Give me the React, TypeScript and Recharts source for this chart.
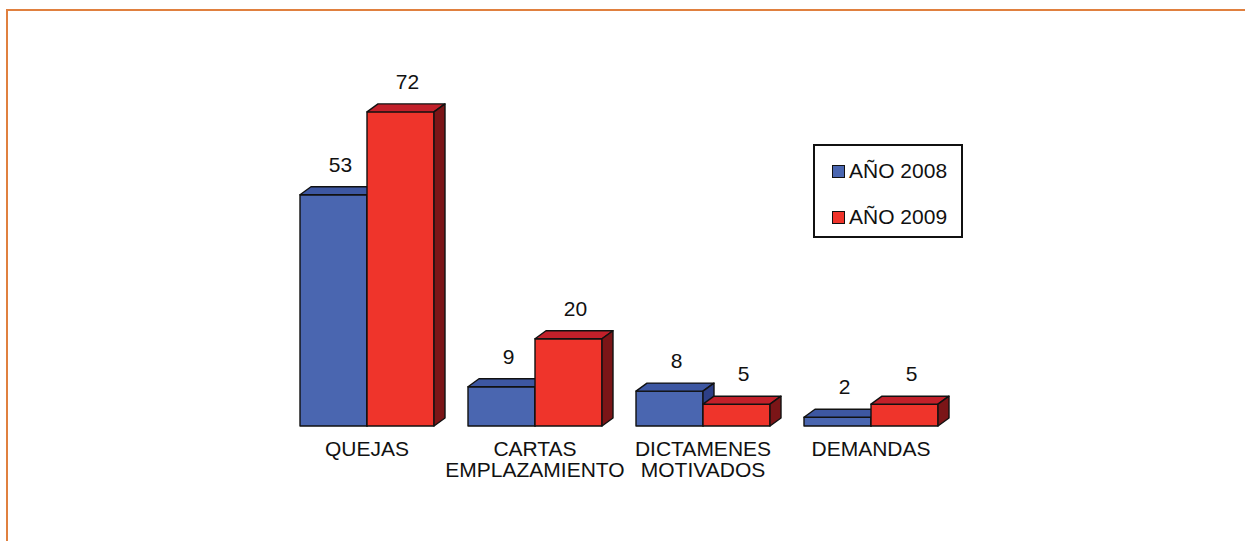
import React from "react";
import { BarChart, Bar, XAxis, YAxis, LabelList } from "recharts";

const categories = ["QUEJAS", "CARTAS\nEMPLAZAMIENTO", "DICTAMENES\nMOTIVADOS", "DEMANDAS"];
const values2008 = [53, 9, 8, 2];
const values2009 = [72, 20, 5, 5];
const seriesNames = ["AÑO 2008", "AÑO 2009"];

const data = categories.map((c, i) => ({ name: c, a2008: values2008[i], a2009: values2009[i] }));

const FONT = "'Liberation Sans', Arial, Helvetica, sans-serif";
const FS = 21;
const DX = 11;
const DY = 8;

const palettes = {
  blue: { front: "#4A66B0", top: "#3D57A2", side: "#2D3F86" },
  red: { front: "#EF342B", top: "#C2202A", side: "#7B1517" },
};

const make3D = (pal: { front: string; top: string; side: string }) => (props: any) => {
  const { x, y, width: w, height: h } = props;
  if (w == null || h == null) return null;
  const sw = 1.4;
  return (
    <g stroke="#111" strokeWidth={sw} strokeLinejoin="round">
      <rect x={x} y={y} width={w} height={h} fill={pal.front} />
      <polygon
        points={`${x},${y} ${x + DX},${y - DY} ${x + w + DX},${y - DY} ${x + w},${y}`}
        fill={pal.top}
      />
      <polygon
        points={`${x + w},${y} ${x + w + DX},${y - DY} ${x + w + DX},${y + h - DY} ${x + w},${y + h}`}
        fill={pal.side}
      />
    </g>
  );
};

const ValueLabel = (props: any) => {
  const { x, y, width, value } = props;
  return (
    <text x={x + width / 2 + 7} y={y - 23} textAnchor="middle" fontFamily={FONT} fontSize={FS} fill="#111">
      {value}
    </text>
  );
};

const CategoryTick = (props: any) => {
  const { x, y, payload } = props;
  const lines = String(payload.value).split("\n");
  return (
    <text x={x} y={y} textAnchor="middle" fontFamily={FONT} fontSize={FS} fill="#111">
      {lines.map((l, i) => (
        <tspan key={i} x={x} dy={i === 0 ? 22 : 21}>
          {l}
        </tspan>
      ))}
    </text>
  );
};

const LegendBox = () => {
  const cols = [palettes.blue.front, palettes.red.front];
  return (
    <div
      style={{
        position: "absolute",
        left: 813,
        top: 144,
        width: 146,
        height: 90,
        border: "2px solid #111",
        background: "#fff",
        fontFamily: FONT,
        fontSize: FS,
        color: "#111",
      }}
    >
      {seriesNames.map((n, i) => (
        <div
          key={n}
          style={{ position: "absolute", left: 17, top: 12 + i * 46, display: "flex", alignItems: "center", height: 26, whiteSpace: "nowrap" }}
        >
          <span
            style={{
              display: "inline-block",
              width: 11,
              height: 11,
              background: cols[i],
              border: "1px solid #111",
              marginRight: 4,
            }}
          />
          <span>{n}</span>
        </div>
      ))}
    </div>
  );
};

export default function App() {
  return (
    <div style={{ position: "absolute", left: 0, top: 0, width: 1245, height: 541, background: "#fff", overflow: "hidden" }}>
      <div
        style={{
          position: "absolute",
          left: 6,
          top: 9,
          width: 1245,
          height: 600,
          borderTop: "2px solid #E0803F",
          borderLeft: "2px solid #E0803F",
        }}
      />
      <div style={{ position: "absolute", left: 0, top: 0 }}>
        <BarChart
          width={1245}
          height={541}
          data={data}
          margin={{ top: 77, right: 290, left: 283, bottom: 0 }}
          barSize={67}
          barGap={0}
        >
          <XAxis dataKey="name" axisLine={false} tickLine={false} height={115} tick={<CategoryTick />} interval={0} />
          <YAxis hide domain={[0, 80]} />
          <Bar dataKey="a2008" name={seriesNames[0]} fill={palettes.blue.front} shape={make3D(palettes.blue)} isAnimationActive={false}>
            <LabelList dataKey="a2008" content={<ValueLabel />} />
          </Bar>
          <Bar dataKey="a2009" name={seriesNames[1]} fill={palettes.red.front} shape={make3D(palettes.red)} isAnimationActive={false}>
            <LabelList dataKey="a2009" content={<ValueLabel />} />
          </Bar>
        </BarChart>
      </div>
      <LegendBox />
    </div>
  );
}
